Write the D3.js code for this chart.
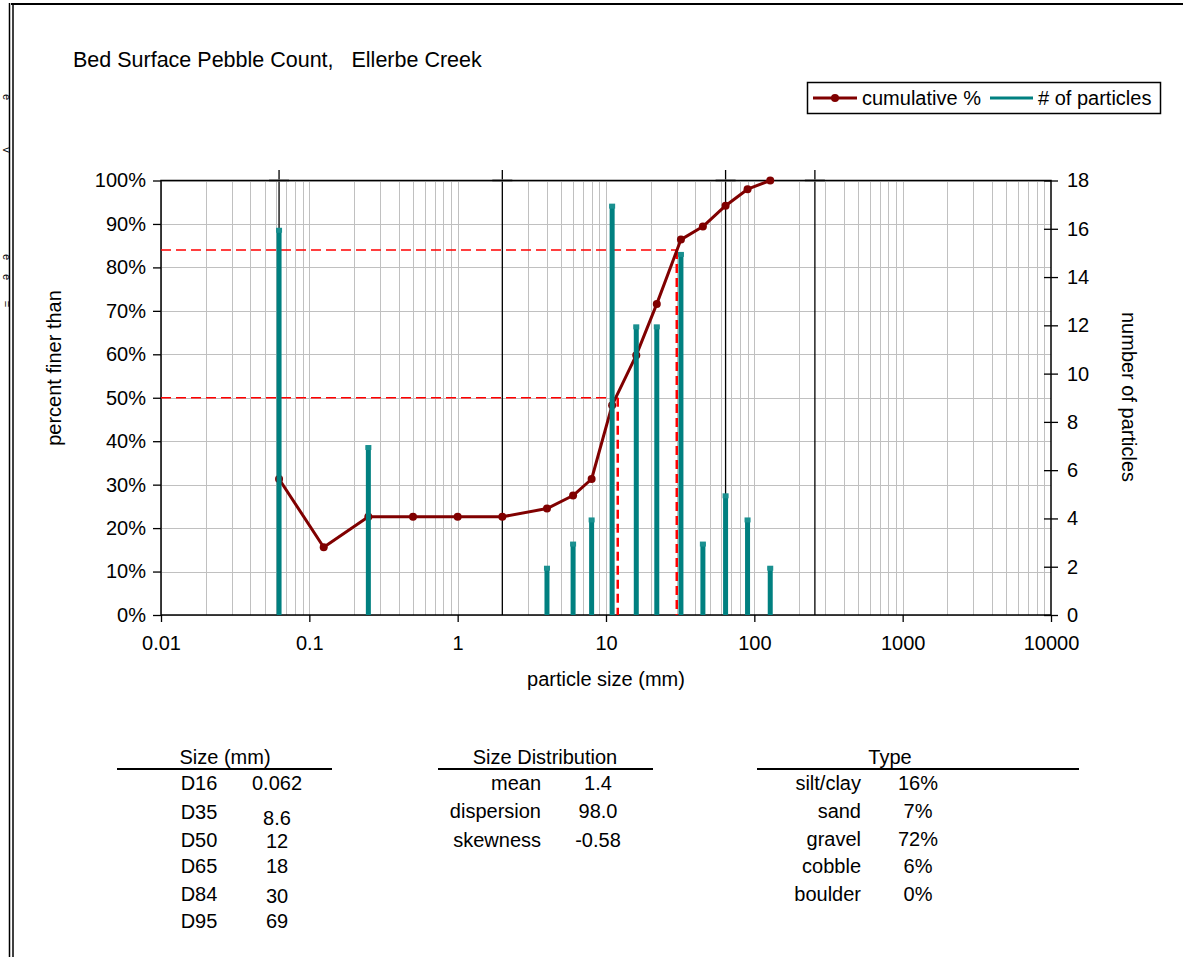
<!DOCTYPE html>
<html><head><meta charset="utf-8">
<script src="https://cdn.jsdelivr.net/npm/d3@7"></script>
<style>
html,body{margin:0;padding:0;background:#fff;}
svg{display:block;font-family:"Liberation Sans",Arial,sans-serif;}
</style></head>
<body>
<svg id="c" width="1183" height="957"></svg>
<script>
// ---------- data ----------
const title = "Bed Surface Pebble Count,\u00a0\u00a0\u00a0Ellerbe Creek";
const sizes = [0.0625, 0.125, 0.25, 0.5, 1, 2, 4, 6, 8, 11, 16, 22, 32, 45, 64, 90, 128];
const cumulativePct = [31.3, 15.6, 22.6, 22.6, 22.6, 22.6, 24.5, 27.5, 31.3, 48.3, 59.8, 71.6, 86.4, 89.4, 94.2, 98.0, 100];
const particleCounts = [16, 0, 7, 0, 0, 0, 2, 3, 4, 17, 12, 12, 15, 3, 5, 4, 2];
const classBoundaries = [0.0625, 2, 64, 256];
const refPct = [84, 50];
const refSize = [30, 12];
const xTicks = [0.01, 0.1, 1, 10, 100, 1000, 10000];
const xTickLabels = ["0.01", "0.1", "1", "10", "100", "1000", "10000"];
const leftTicks = [0, 10, 20, 30, 40, 50, 60, 70, 80, 90, 100];
const rightTicks = [0, 2, 4, 6, 8, 10, 12, 14, 16, 18];
const seriesNames = ["cumulative %", "# of particles"];
const sizeLabels = ["D16", "D35", "D50", "D65", "D84", "D95"];
const sizeValues = ["0.062", "8.6", "12", "18", "30", "69"];
const distLabels = ["mean", "dispersion", "skewness"];
const distValues = ["1.4", "98.0", "-0.58"];
const typeLabels = ["silt/clay", "sand", "gravel", "cobble", "boulder"];
const typeValues = ["16%", "7%", "72%", "6%", "0%"];
const edgeGlyphs = ["e", "v", "e", "e", "="];

// ---------- layout ----------
const FS = 20;
const L = 161, R = 1051, T = 180.5, B = 615;
const svg = d3.select("#c");
const x = d3.scaleLog().domain([0.01, 10000]).range([L, R]);
const yL = d3.scaleLinear().domain([0, 100]).range([B, T]);
const yR = d3.scaleLinear().domain([0, 18]).range([B, T]);
const maroon = "#800000", teal = "#008080";

// outer frame
svg.append("line").attr("x1", 11).attr("x2", 1183).attr("y1", 4).attr("y2", 4).attr("stroke", "#000").attr("stroke-width", 2);
[9.5, 13].forEach(v => svg.append("line").attr("x1", v).attr("x2", v).attr("y1", 3).attr("y2", 957).attr("stroke", "#000").attr("stroke-width", 1.5));
// small rotated glyphs at far left
const edgeY = [97, 150, 257, 277, 304];
edgeGlyphs.forEach((t, i) => svg.append("text").attr("transform", `translate(3,${edgeY[i]}) rotate(90)`)
  .attr("text-anchor", "middle").attr("font-size", 11).attr("fill", "#000").text(t));

// title
svg.append("text").attr("x", 73).attr("y", 67).attr("font-size", 21.5).attr("fill", "#000").text(title);

// grid: vertical minor lines
const gridX = [];
for (let d = 0.01; d < 10000; d *= 10) for (let k = 1; k <= 9; k++) gridX.push(+(k * d).toPrecision(6));
const g = svg.append("g");
g.selectAll("line.gx").data(gridX).join("line")
  .attr("x1", d => Math.round(x(d)) + 0.5).attr("x2", d => Math.round(x(d)) + 0.5)
  .attr("y1", T).attr("y2", B).attr("stroke", "#c0c0c0").attr("stroke-width", 1);
g.selectAll("line.gy").data(leftTicks).join("line")
  .attr("x1", L).attr("x2", R).attr("y1", d => Math.round(yL(d)) + 0.5).attr("y2", d => Math.round(yL(d)) + 0.5)
  .attr("stroke", "#c0c0c0").attr("stroke-width", 1);

// class boundary lines
classBoundaries.forEach(v => {
  const xx = x(v);
  svg.append("line").attr("x1", xx).attr("x2", xx).attr("y1", 170).attr("y2", B).attr("stroke", "#000").attr("stroke-width", 1.3);
  svg.append("line").attr("x1", xx - 10).attr("x2", xx + 10).attr("y1", T).attr("y2", T).attr("stroke", "#888").attr("stroke-width", 3).attr("opacity", 0.7);
});

// axes frame
svg.append("rect").attr("x", L).attr("y", T).attr("width", R - L).attr("height", B - T).attr("fill", "none").attr("stroke", "#000").attr("stroke-width", 1.5);

// left axis
const axL = d3.axisLeft(yL).tickValues(leftTicks).tickFormat(d => d + "%").tickSize(8).tickPadding(7);
const gL = svg.append("g").attr("transform", `translate(${L},0)`).call(axL);
// right axis (cross ticks)
const axR = d3.axisRight(yR).tickValues(rightTicks).tickSize(7).tickPadding(9);
const gR = svg.append("g").attr("transform", `translate(${R},0)`).call(axR);
gR.selectAll(".tick line").attr("x1", -7);
// bottom axis
const axB = d3.axisBottom(x).tickValues(xTicks).tickFormat((d, i) => xTickLabels[i]).tickSize(7).tickPadding(14);
const gB = svg.append("g").attr("transform", `translate(0,${B})`).call(axB);
[gL, gR, gB].forEach(a => {
  a.select(".domain").remove();
  a.selectAll(".tick line").attr("stroke", "#000").attr("stroke-width", 1.3);
  a.selectAll(".tick text").attr("font-size", FS).attr("fill", "#000").attr("font-family", "Liberation Sans, Arial, sans-serif");
});

// axis titles
svg.append("text").attr("x", 606).attr("y", 686).attr("text-anchor", "middle").attr("font-size", FS).text("particle size (mm)");
svg.append("text").attr("transform", "translate(61,368) rotate(-90)").attr("text-anchor", "middle").attr("font-size", FS).text("percent finer than");
svg.append("text").attr("transform", "translate(1122,397) rotate(90)").attr("text-anchor", "middle").attr("font-size", FS).text("number of particles");

// reference dashed lines
refPct.forEach((p, i) => {
  const xx = x(refSize[i]), yy = yL(p);
  svg.append("line").attr("x1", L).attr("x2", xx).attr("y1", yy).attr("y2", yy)
    .attr("stroke", "#ff0000").attr("stroke-width", 1.6).attr("stroke-dasharray", "10,5");
  svg.append("line").attr("x1", xx).attr("x2", xx).attr("y1", yy).attr("y2", B)
    .attr("stroke", "#ff0000").attr("stroke-width", 2.5).attr("stroke-dasharray", "9,5");
});

// cumulative line
const pts = sizes.map((s, i) => [s, cumulativePct[i]]);
svg.append("path").datum(pts)
  .attr("d", d3.line().x(d => x(d[0])).y(d => yL(d[1])))
  .attr("fill", "none").attr("stroke", maroon).attr("stroke-width", 3).attr("stroke-linejoin", "round");
svg.selectAll("circle.cum").data(pts).join("circle")
  .attr("cx", d => x(d[0])).attr("cy", d => yL(d[1])).attr("r", 4).attr("fill", maroon);

// particle count bars
const bars = sizes.map((s, i) => [s, particleCounts[i]]).filter(d => d[1] > 0);
svg.selectAll("rect.bar").data(bars).join("rect")
  .attr("x", d => x(d[0]) - 2.5).attr("y", d => yR(d[1])).attr("width", 5).attr("height", d => B - yR(d[1]))
  .attr("fill", teal);
svg.selectAll("rect.cap").data(bars).join("rect")
  .attr("x", d => x(d[0]) - 3).attr("y", d => yR(d[1]) - 1).attr("width", 6).attr("height", 5)
  .attr("fill", "#1a9090");

// legend
const lg = svg.append("g");
lg.append("rect").attr("x", 807.5).attr("y", 82.5).attr("width", 353).attr("height", 31).attr("fill", "#fff").attr("stroke", "#000").attr("stroke-width", 1.5);
lg.append("line").attr("x1", 813).attr("x2", 857).attr("y1", 98).attr("y2", 98).attr("stroke", maroon).attr("stroke-width", 3);
lg.append("circle").attr("cx", 835).attr("cy", 98).attr("r", 4).attr("fill", maroon);
lg.append("text").attr("x", 862).attr("y", 105).attr("font-size", FS).text(seriesNames[0]);
lg.append("line").attr("x1", 990).attr("x2", 1033).attr("y1", 98).attr("y2", 98).attr("stroke", teal).attr("stroke-width", 3);
lg.append("text").attr("x", 1038).attr("y", 105).attr("font-size", FS).text(seriesNames[1]);

// tables
const TF = 20;
function header(txt, cx, x1, x2) {
  svg.append("text").attr("x", cx).attr("y", 764).attr("text-anchor", "middle").attr("font-size", TF).text(txt);
  svg.append("line").attr("x1", x1).attr("x2", x2).attr("y1", 769).attr("y2", 769).attr("stroke", "#000").attr("stroke-width", 2);
}
header("Size (mm)", 225, 117, 332);
header("Size Distribution", 545, 438, 653);
header("Type", 890, 757, 1079);

const sizeLabelY = [783, 812, 840, 866, 894, 921];
const sizeValueY = [783, 818, 841, 866, 896, 921];
svg.selectAll("text.sl").data(sizeLabels).join("text")
  .attr("x", 199).attr("y", (d, i) => sizeLabelY[i] + 7).attr("text-anchor", "middle").attr("font-size", TF).text(d => d);
svg.selectAll("text.sv").data(sizeValues).join("text")
  .attr("x", 277).attr("y", (d, i) => sizeValueY[i] + 7).attr("text-anchor", "middle").attr("font-size", TF).text(d => d);

const distY = [783, 811, 840];
svg.selectAll("text.dl").data(distLabels).join("text")
  .attr("x", 541).attr("y", (d, i) => distY[i] + 7).attr("text-anchor", "end").attr("font-size", TF).text(d => d);
svg.selectAll("text.dv").data(distValues).join("text")
  .attr("x", 598).attr("y", (d, i) => distY[i] + 7).attr("text-anchor", "middle").attr("font-size", TF).text(d => d);

const typeY = [783, 811, 839, 866, 894];
svg.selectAll("text.tl").data(typeLabels).join("text")
  .attr("x", 861).attr("y", (d, i) => typeY[i] + 7).attr("text-anchor", "end").attr("font-size", TF).text(d => d);
svg.selectAll("text.tv").data(typeValues).join("text")
  .attr("x", 918).attr("y", (d, i) => typeY[i] + 7).attr("text-anchor", "middle").attr("font-size", TF).text(d => d);
</script>
</body></html>
